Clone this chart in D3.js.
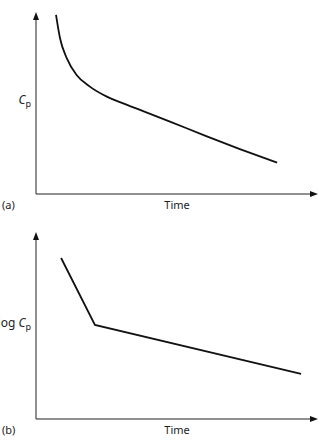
<!DOCTYPE html>
<html>
<head>
<meta charset="utf-8">
<script src="https://cdn.jsdelivr.net/npm/d3@7"></script>
<style>
  html, body { margin: 0; padding: 0; background: #fff; }
  svg { display: block; font-family: "Noto Sans", "DejaVu Sans", sans-serif; }
</style>
</head>
<body>
<svg id="chart" width="327" height="440"></svg>
<script>
// Panel (a): Cp against time (arbitrary units)
const timeA = [7.1, 8.5, 10.9, 14.4, 19.1, 25.1, 30.9, 36.9, 47.5, 59.9, 72.3, 85.5];
const cpA   = [98.4, 85.7, 74.7, 65.4, 59.0, 53.5, 49.8, 46.2, 39.8, 32.1, 24.7, 17.2];

// Panel (b): log Cp against time
const timeB  = [8.9, 20.9, 94];
const logCpB = [86.1, 50.3, 24.1];

const panels = [
    { tag: '(a)', ylabPre: '', x: timeA, y: cpA, top: 12, bottom: 194, curve: d3.curveMonotoneX },
    { tag: '(b)', ylabPre: 'log ', x: timeB, y: logCpB, top: 232, bottom: 419, curve: d3.curveLinear }
];

const svg = d3.select('#chart');
const left = 36, right = 318;

const x = d3.scaleLinear().domain([0, 100]).range([left, right]);

panels.forEach(p => {
    const y = d3.scaleLinear().domain([0, 100]).range([p.bottom, p.top]);
    const g = svg.append('g');

    // axes
    g.append('line')
        .attr('x1', x(0)).attr('y1', y(0))
        .attr('x2', x(0)).attr('y2', y(100) + 5)
        .attr('stroke', '#222').attr('stroke-width', 1);
    g.append('line')
        .attr('x1', x(0)).attr('y1', y(0))
        .attr('x2', x(100) - 5).attr('y2', y(0))
        .attr('stroke', '#222').attr('stroke-width', 1);

    // arrow heads
    const tx = x(0), ty = y(100);
    g.append('path')
        .attr('d', `M${tx},${ty} L${tx - 3},${ty + 8} L${tx + 3},${ty + 8} Z`)
        .attr('fill', '#111');
    const rx = x(100), ry = y(0);
    g.append('path')
        .attr('d', `M${rx},${ry} L${rx - 8},${ry - 3} L${rx - 8},${ry + 3} Z`)
        .attr('fill', '#111');

    // data line
    const line = d3.line()
        .x((d, i) => x(p.x[i]))
        .y(d => y(d))
        .curve(p.curve);
    g.append('path')
        .attr('d', line(p.y))
        .attr('fill', 'none')
        .attr('stroke', '#111')
        .attr('stroke-width', 1.8);

    // labels
    g.append('text')
        .attr('x', 2).attr('y', p.bottom + 15)
        .attr('font-size', 11).attr('fill', '#222')
        .text(p.tag);
    g.append('text')
        .attr('x', (left + right) / 2).attr('y', p.bottom + 15)
        .attr('text-anchor', 'middle')
        .attr('font-size', 11).attr('fill', '#222')
        .text('Time');

    const yl = g.append('text')
        .attr('x', 31).attr('y', y(50) + 1)
        .attr('text-anchor', 'end')
        .attr('font-size', 12).attr('fill', '#222');
    if (p.ylabPre) yl.append('tspan').text(p.ylabPre);
    yl.append('tspan').attr('font-style', 'italic').text('C');
    yl.append('tspan').attr('font-size', 9).attr('dy', 3).text('p');
});
</script>
</body>
</html>
